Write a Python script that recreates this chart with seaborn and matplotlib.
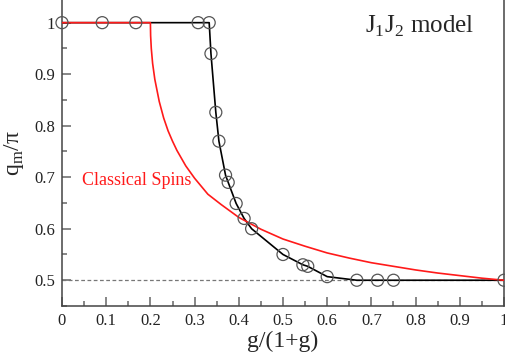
import matplotlib
matplotlib.use('Agg')
import matplotlib.pyplot as plt
import numpy as np
import pandas as pd
import seaborn as sns
from matplotlib.ticker import MultipleLocator

# J1J2 model data (open circles + black line)
g_ratio = [0, 0.091, 0.167, 0.308, 0.333, 0.337, 0.348, 0.355, 0.370, 0.376,
           0.394, 0.412, 0.429, 0.5, 0.545, 0.556, 0.6, 0.667, 0.714, 0.75, 1.0]
qm_pi = [1, 1, 1, 1, 1, 0.94, 0.826, 0.77, 0.704, 0.69,
         0.649, 0.62, 0.60, 0.55, 0.53, 0.527, 0.507, 0.5, 0.5, 0.5, 0.5]

# classical spins curve (red)
cl_x = [0, 0.2, 0.2005, 0.202, 0.205, 0.21, 0.22, 0.23, 0.24, 0.25, 0.26, 0.28,
        0.30, 0.33, 0.36, 0.40, 0.45, 0.5, 0.55, 0.6, 0.65, 0.7, 0.75, 0.8,
        0.85, 0.9, 0.95, 1.0]
cl_y = [1, 1, 0.975, 0.950, 0.921, 0.890, 0.847, 0.815, 0.790, 0.770, 0.752, 0.722,
        0.698, 0.667, 0.647, 0.622, 0.599, 0.580, 0.566, 0.553, 0.543, 0.534, 0.527, 0.520,
        0.514, 0.509, 0.504, 0.5]

sns.set_style('ticks')
plt.rcParams['font.family'] = ['Liberation Serif', 'DejaVu Serif']
plt.rcParams['mathtext.fontset'] = 'custom'
plt.rcParams['mathtext.rm'] = 'Liberation Serif'

df = pd.DataFrame({'x': g_ratio, 'y': qm_pi})
cl = pd.DataFrame({'x': cl_x, 'y': cl_y})

fig = plt.figure(figsize=(5.06, 3.58), dpi=100)
ax = fig.add_axes([62 / 506, 52 / 358, 442 / 506, 306 / 358])

ax.axhline(0.5, color='#777777', lw=0.9, ls=(0, (3, 2)), zorder=1)
sns.lineplot(data=df, x='x', y='y', color='black', lw=1.2, estimator=None, ax=ax, zorder=2)
sns.lineplot(data=cl, x='x', y='y', color='#ff1a1a', lw=1.2, estimator=None, ax=ax, zorder=3)
sns.scatterplot(data=df, x='x', y='y', marker='o', s=75, facecolor='none',
                edgecolor='#555555', linewidth=0.9, ax=ax, zorder=4, clip_on=False)

ax.set_xlim(0, 1)
ax.set_ylim(0.45, 1.044)
ax.xaxis.set_major_locator(MultipleLocator(0.1))
ax.xaxis.set_minor_locator(MultipleLocator(0.05))
ax.yaxis.set_major_locator(MultipleLocator(0.1))
ax.yaxis.set_minor_locator(MultipleLocator(0.05))
ax.set_xticks(np.arange(0, 1.01, 0.1))
ax.set_xticklabels(['0', '0.1', '0.2', '0.3', '0.4', '0.5', '0.6', '0.7', '0.8', '0.9', '1'])
ax.set_yticks([0.5, 0.6, 0.7, 0.8, 0.9, 1.0])
ax.set_yticklabels(['0.5', '0.6', '0.7', '0.8', '0.9', '1'])
ax.tick_params(which='both', direction='in', color='#666666', labelsize=12,
               labelcolor='#222222', width=1.1)
ax.tick_params(which='major', length=6.5, pad=5)
ax.tick_params(which='minor', length=3.8)

for side in ['left', 'bottom', 'right']:
    ax.spines[side].set_color('#444444')
    ax.spines[side].set_linewidth(1.1)
ax.spines['top'].set_visible(False)

ax.set_xlabel('g/(1+g)', fontsize=17, labelpad=1)
ax.set_ylabel(r'q$_\mathrm{m}$/π', fontsize=17, labelpad=6)

ax.text(0.686, 0.98, r'J$_1$J$_2$ model', fontsize=18, va='baseline', ha='left')
ax.text(0.045, 0.685, 'Classical Spins', color='#ff1a1a', fontsize=13, va='baseline', ha='left')

fig.savefig('out.png', dpi=100)
